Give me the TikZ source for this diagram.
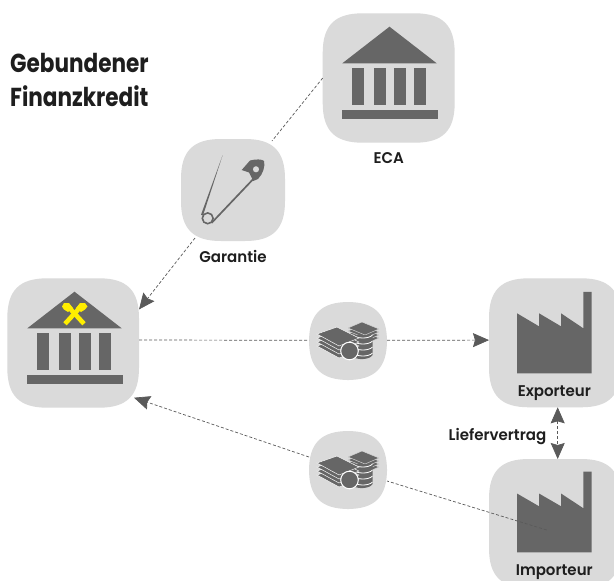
\documentclass[tikz,border=0pt]{standalone}
\usepackage{fontspec}
\setmainfont{Poppins}[BoldFont={Poppins SemiBold}]
\newfontfamily\labelface{Poppins SemiBold}[FakeStretch=0.97]
\newfontfamily\titleface{Poppins}[FakeStretch=0.83]
\usetikzlibrary{arrows.meta}
\definecolor{boxgray}{HTML}{DADADA}
\definecolor{icongray}{HTML}{666666}
\definecolor{linegray}{HTML}{5A5A5A}
\definecolor{inkblack}{HTML}{1E1E1E}
\definecolor{rbyellow}{HTML}{FFEE00}
\tikzset{
  anchorbox/.style={inner sep=0pt,outer sep=0pt},
  boxlabel/.style={font=\labelface\fontsize{15.5}{16}\selectfont,text=inkblack,inner sep=0pt,anchor=base},
  titletext/.style={font=\titleface\bfseries\fontsize{26}{27}\selectfont,text=inkblack,inner sep=0pt,anchor=base west},
  conn/.style={draw=linegray,line width=0.7pt,dash pattern=on 3pt off 2pt},
  tipped/.style={-{Stealth[length=16pt,width=14pt,inset=2pt,fill=linegray,sep=0pt]}},
  tippedboth/.style={{Stealth[length=16pt,width=14pt,inset=2pt,fill=linegray]}-{Stealth[length=16pt,width=14pt,inset=2pt,fill=linegray]}},
  moneyicon/.pic={
    % right stack of notes
    \foreach \d in {9,6,3,0}{
      \fill[icongray,draw=boxgray,line width=0.45pt] (0,-13+\d) -- (14,-19+\d) -- (31,-12+\d) -- (17,-6+\d) -- cycle;
    }
    % stack of coins
    \fill[icongray] (5,-6) -- (24.5,-6) -- (24.5,14) .. controls (22,19) and (9,19) .. (5,16) -- cycle;
    \foreach \d in {-6,0,6,12}{
      \draw[white,line width=0.8pt] (5,\d) .. controls (9,\d+4) and (21,\d+4) .. (24.5,\d);
    }
    % left stack of notes
    \foreach \d in {12,8,4,0}{
      \fill[icongray,draw=white,line width=0.45pt] (-31,-7+\d) -- (-11,-14+\d) -- (11,-3+\d) -- (-9,5+\d) -- cycle;
    }
    \fill[icongray,draw=white,line width=1pt] (1.5,10) circle[radius=8.8];
  },
  factoryicon/.pic={
    \fill[icongray] (-37.5,0) -- (-37.5,-60) -- (-15.5,-47) -- (-15.5,-60) -- (6.5,-47) -- (6.5,-60) -- (28.8,-45) -- (28.8,-81.5) -- (37.2,-81.5) -- (37.2,0) -- cycle;
  },
  templeicon/.pic={
    \fill[icongray] (0,0) -- (47.2,36.6) -- (-47.2,36.6) -- cycle;
    \foreach \x in {-38,-16,4,24}{\fill[icongray] (\x,41) rectangle ++(12,37.3);}
    \fill[icongray] (-48,83.3) rectangle (48,92);
  }
}
\newcommand{\iconbox}[5]{%
  \fill[boxgray] ({#2+40},#3) -- ({#4-40},#3) .. controls ({#4-12},#3) and (#4,{#3+12}) .. (#4,{#3+40})
    -- (#4,{#5-40}) .. controls (#4,{#5-12}) and ({#4-12},#5) .. ({#4-40},#5)
    -- ({#2+40},#5) .. controls ({#2+12},#5) and (#2,{#5-12}) .. (#2,{#5-40})
    -- (#2,{#3+40}) .. controls (#2,{#3+12}) and ({#2+12},#3) .. ({#2+40},#3) -- cycle;
  \pgfmathsetmacro{\bw}{#4-#2}\pgfmathsetmacro{\bh}{#5-#3}
  \node[anchorbox,minimum width=\bw pt,minimum height=\bh pt] (#1) at ({(#2+#4)/2},{(#3+#5)/2}) {};
}
\begin{document}
\begin{tikzpicture}[x=1pt,y=-1pt]
\useasboundingbox (0,0) rectangle (614,581);
\clip (0,0) rectangle (614,581);
\fill[white] (0,0) rectangle (614,581);

\iconbox{bank}{7.3}{278.3}{139}{407.7}
\iconbox{eca}{322.7}{13.3}{454.7}{142.7}
\iconbox{garantie}{181}{139}{285}{241}
\iconbox{moneyA}{309}{302}{387}{380}
\iconbox{moneyB}{309}{431}{387}{509}
\iconbox{exporteur}{489}{278.3}{621}{407.3}
\iconbox{importeur}{489}{459}{621}{588}

% icons
\pic at (74.5,291.7) {templeicon};
\pic at (389.5,26.7) {templeicon};
\pic at (348,341) {moneyicon};
\pic at (348,470) {moneyicon};
\pic at (554.5,373.3) {factoryicon};
\begin{scope}[shift={(554.5,552.3)},y=-0.98pt]
\fill[icongray] (-37.5,0) -- (-37.5,-60) -- (-15.5,-47) -- (-15.5,-60) -- (6.5,-47) -- (6.5,-60) -- (28.8,-45) -- (28.8,-82.3) -- (37.2,-82.3) -- (37.2,0) -- cycle;
\end{scope}

% raiffeisen gable cross
\draw[rbyellow,line width=4.6pt] (65,323.8) -- (80,307.5);
\draw[rbyellow,line width=4.6pt] (84,323.8) -- (69,307.5);
\fill[rbyellow] (76,308) -- (80,303) -- (85,303) -- (87.5,306.5) -- (85,309.5) -- (81,312) -- cycle;
\fill[rbyellow] (73,308) -- (69,303) -- (64,303) -- (62,306.5) -- (64,309.5) -- (68,312) -- cycle;

% safety pin
\fill[icongray] (222.7,155) -- (203,215.5) -- (201,214.8) -- cycle;
\draw[icongray,line width=1.6pt] (207.7,218.3) circle[radius=5.4];
\draw[icongray,line width=1.7pt] (211.5,223) -- (253.3,179);
\fill[icongray,even odd rule] (241.7,170) -- (250,160.5) .. controls (256,159) and (262,159) .. (264,161) .. controls (265.5,166) and (263,174) .. (258,179) -- (253.3,181) -- (249,172.5) -- cycle
  (256,169.3) circle[radius=3.2];

% connectors
\draw[conn] (eca.west) -- ([xshift=-13pt,yshift=-2pt]garantie.north east);
\draw[conn,tipped] ([xshift=14pt,yshift=3pt]garantie.south west) -- (bank.27.3);
\draw[conn] ([yshift=3pt]bank.east) -- ([yshift=0.7pt]moneyA.west);
\draw[conn,tipped] ([yshift=0.7pt]moneyA.east) -- ([yshift=2.7pt]exporteur.west);
\coordinate (importIn) at (546.7,530);
\draw[conn] (importIn) -- ([yshift=-11pt]moneyB.east);
\draw[conn,tipped] ([yshift=13pt]moneyB.west) -- ([xshift=-5pt,yshift=10pt]bank.south east);
\draw[conn,tippedboth] ([xshift=2.7pt]exporteur.south) -- ([xshift=2.7pt]importeur.north);

% labels
\node[boxlabel] (ecaL) at (388.7,163.3) {ECA};
\node[boxlabel] (garL) at (233,262.3) {Garantie};
\node[boxlabel] (expL) at (554.3,396.7) {Exporteur};
\node[boxlabel] (impL) at (554.3,575.7) {Importeur};
\node[boxlabel] (liefL) at (497.5,440) {Liefervertrag};
\node[titletext] (titleA) at (10,72) {Gebundener};
\node[titletext] (titleB) at (10,106.7) {Finanzkredit};
\end{tikzpicture}
\end{document}
